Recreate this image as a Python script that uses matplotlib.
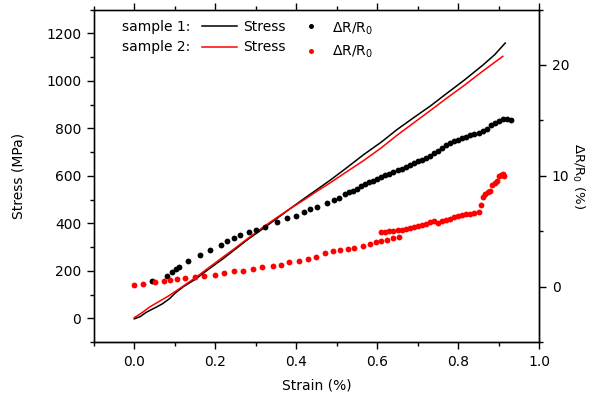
import matplotlib
matplotlib.use("Agg")
import matplotlib.pyplot as plt
from matplotlib.ticker import MultipleLocator

# stress-strain curves (strain %, stress MPa)
s1_strain = [0, 0.015, 0.029, 0.04, 0.054, 0.07, 0.087, 0.10, 0.12, 0.135, 0.153, 0.17, 0.19,
             0.219, 0.25, 0.28, 0.318, 0.35, 0.385, 0.42, 0.45, 0.484, 0.52, 0.567, 0.61, 0.649,
             0.69, 0.732, 0.77, 0.815, 0.86, 0.89, 0.916]
s1_stress = [-2, 8, 25, 35, 47, 62, 83, 105, 132, 148, 167, 190, 215, 251, 292, 332, 378, 418,
             462, 505, 541, 582, 628, 690, 742, 795, 845, 895, 945, 1003, 1065, 1110, 1159]

s2_strain = [0, 0.02, 0.037, 0.06, 0.087, 0.12, 0.153, 0.185, 0.219, 0.25, 0.28, 0.318, 0.35,
             0.385, 0.42, 0.45, 0.484, 0.52, 0.567, 0.61, 0.649, 0.69, 0.732, 0.77, 0.815, 0.86, 0.91]
s2_stress = [3, 25, 47, 70, 97, 135, 174, 215, 258, 297, 336, 384, 422, 462, 500, 534, 571, 612,
             665, 718, 771, 823, 876, 925, 981, 1040, 1103]

# resistance change (strain %, dR/R0 %)
r1_strain = [0.044, 0.081, 0.093, 0.103, 0.110, 0.133, 0.161, 0.188, 0.213, 0.230, 0.247, 0.261,
             0.284, 0.300, 0.323, 0.352, 0.377, 0.400, 0.418, 0.435, 0.452, 0.475, 0.492, 0.506,
             0.52, 0.53, 0.54, 0.55, 0.56, 0.57, 0.58, 0.59, 0.60, 0.61, 0.62, 0.63, 0.64, 0.65,
             0.66, 0.67, 0.68, 0.69, 0.70, 0.71, 0.72, 0.73, 0.74, 0.75, 0.76, 0.77, 0.78, 0.79,
             0.80, 0.81, 0.82, 0.83, 0.84, 0.85, 0.86, 0.87, 0.88, 0.89, 0.90, 0.91, 0.92, 0.93]
r1_dr = [0.51, 1.01, 1.32, 1.61, 1.76, 2.30, 2.87, 3.35, 3.77, 4.10, 4.39, 4.69, 4.92, 5.08, 5.42,
         5.80, 6.16, 6.40, 6.70, 7.00, 7.18, 7.55, 7.83, 8.04,
         8.35, 8.55, 8.65, 8.85, 9.1, 9.3, 9.4, 9.55, 9.75, 9.85, 10.05, 10.2, 10.3, 10.5, 10.6,
         10.8, 10.95, 11.15, 11.3, 11.4, 11.6, 11.8, 12.05, 12.25, 12.5, 12.75, 12.95, 13.1, 13.25,
         13.4, 13.5, 13.65, 13.8, 13.9, 14.05, 14.25, 14.6, 14.8, 14.95, 15.1, 15.1, 15.0]

r2_strain = [0.0, 0.021, 0.052, 0.074, 0.089, 0.105, 0.124, 0.149, 0.171, 0.199, 0.222, 0.246,
             0.269, 0.292, 0.315, 0.342, 0.362, 0.383, 0.407, 0.430, 0.449, 0.470, 0.490, 0.509,
             0.528, 0.542, 0.565, 0.581, 0.596, 0.608, 0.623, 0.639, 0.653,
             0.61, 0.62, 0.63, 0.64, 0.65, 0.66, 0.67, 0.68, 0.69, 0.70, 0.71, 0.72, 0.73, 0.74,
             0.75, 0.76, 0.77, 0.78, 0.79, 0.80, 0.81, 0.82, 0.83, 0.84, 0.85,
             0.855, 0.862, 0.866, 0.873, 0.878, 0.884, 0.89, 0.895, 0.90, 0.905, 0.91, 0.913]
r2_dr = [0.12, 0.21, 0.42, 0.51, 0.63, 0.72, 0.78, 0.87, 0.96, 1.08, 1.23, 1.41, 1.46, 1.61, 1.77,
         1.86, 2.0, 2.21, 2.36, 2.54, 2.7, 3.03, 3.2, 3.32, 3.41, 3.5, 3.65, 3.86, 4.01, 4.10,
         4.24, 4.37, 4.51,
         4.9, 4.95, 5.0, 5.05, 5.1, 5.15, 5.2, 5.3, 5.35, 5.45, 5.6, 5.7, 5.85, 5.95, 5.75, 5.9,
         6.05, 6.15, 6.25, 6.35, 6.45, 6.55, 6.6, 6.65, 6.7,
         7.35, 8.1, 8.35, 8.5, 8.6, 9.2, 9.35, 9.5, 9.95, 10.1, 10.15, 10.0]

plt.rcParams["font.family"] = ["DejaVu Sans"]
plt.rcParams["font.size"] = 10

fig = plt.figure(figsize=(5.9, 3.96), dpi=100)
ax = fig.add_axes([0.159, 0.136, 0.755, 0.840])
ax2 = ax.twinx()

ax.plot(s1_strain, s1_stress, color="black", linewidth=1.1)
ax.plot(s2_strain, s2_stress, color="red", linewidth=1.1)
ax2.plot(r1_strain, r1_dr, "o", color="black", markersize=4.2, markeredgewidth=0)
ax2.plot(r2_strain, r2_dr, "o", color="red", markersize=4.2, markeredgewidth=0)

ax.set_xlim(-0.1, 1.0)
ax.set_ylim(-100, 1300)
ax2.set_ylim(-5, 25)
ax.set_xticks([0.0, 0.2, 0.4, 0.6, 0.8, 1.0])
ax.xaxis.set_minor_locator(MultipleLocator(0.1))
ax.set_yticks([0, 200, 400, 600, 800, 1000, 1200])
ax.yaxis.set_minor_locator(MultipleLocator(100))
ax2.set_yticks([0, 10, 20])
ax2.yaxis.set_minor_locator(MultipleLocator(5))

ax.tick_params(which="major", direction="out", length=5, width=1, pad=4)
ax.tick_params(which="minor", direction="out", length=3, width=1)
ax.tick_params(axis="x", which="both", top=True)
ax2.tick_params(which="major", direction="out", length=5, width=1, pad=4)
ax2.tick_params(which="minor", direction="out", length=3, width=1)
for a in (ax, ax2):
    for sp in a.spines.values():
        sp.set_linewidth(1.0)
ax.spines["left"].set_color("#444444")
ax.spines["top"].set_color("#444444")

ax.set_xlabel("Strain (%)", labelpad=7)
ax.set_ylabel("Stress (MPa)", labelpad=15)
ax2.set_ylabel(r"$\Delta$R/R$_0$ (%)", rotation=-90, labelpad=12, fontsize=9.5)

# legend drawn as text rows
def fx(px):
    return px / 590.0

def fy(py):
    return 1 - py / 396.0

fig.text(fx(122), fy(27), "sample 1:", va="center", ha="left")
fig.text(fx(122), fy(47), "sample 2:", va="center", ha="left")
fig.add_artist(plt.Line2D([fx(202), fx(237)], [fy(26), fy(26)], color="black", linewidth=1.1))
fig.add_artist(plt.Line2D([fx(202), fx(237)], [fy(46.7), fy(46.7)], color="red", linewidth=1.1))
fig.text(fx(243), fy(27), "Stress", va="center", ha="left")
fig.text(fx(243), fy(47), "Stress", va="center", ha="left")
fig.add_artist(plt.Line2D([fx(311)], [fy(26)], marker="o", color="black", markersize=3.6, markeredgewidth=0))
fig.add_artist(plt.Line2D([fx(311)], [fy(51)], marker="o", color="red", markersize=3.6, markeredgewidth=0))
fig.text(fx(332), fy(29), r"$\Delta$R/R$_0$", va="center", ha="left")
fig.text(fx(332), fy(52), r"$\Delta$R/R$_0$", va="center", ha="left")

fig.savefig("out.png", dpi=100)
